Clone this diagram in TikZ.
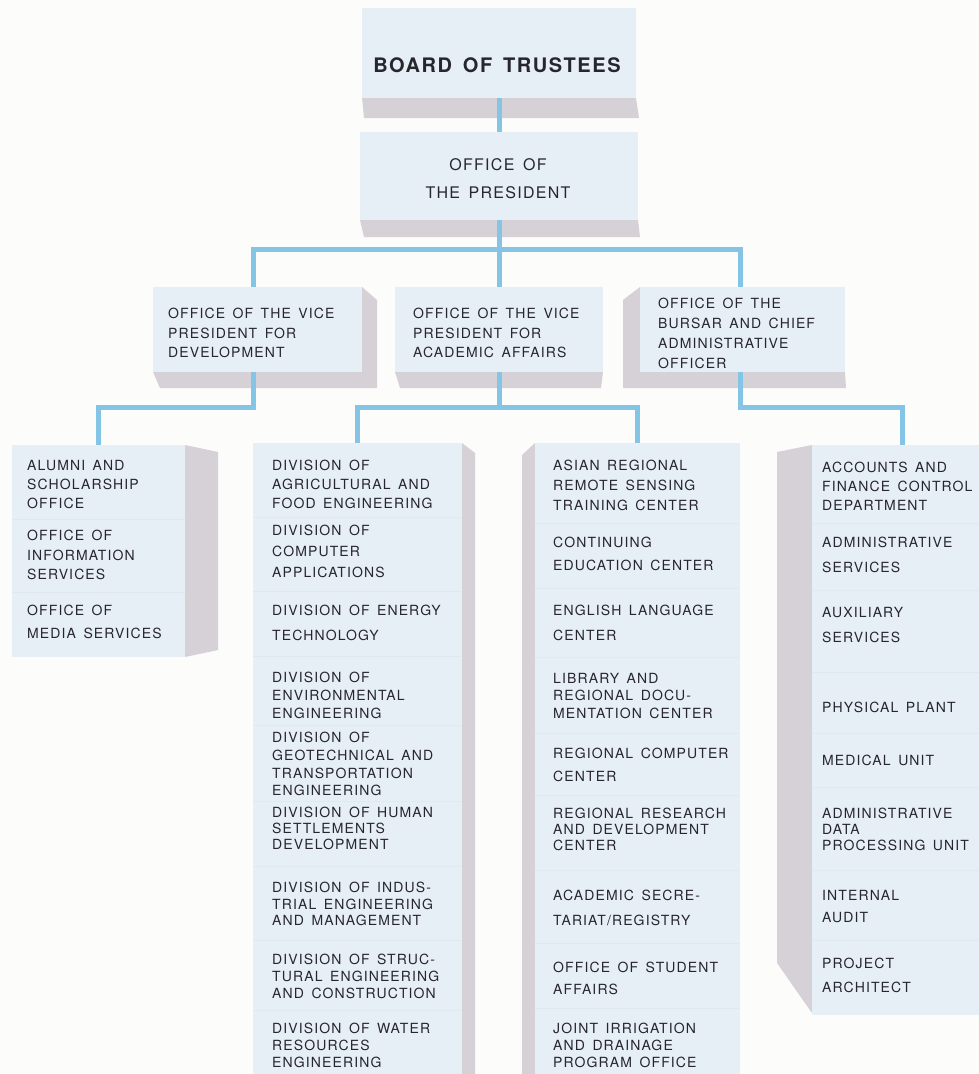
\documentclass[tikz,border=0pt]{standalone}
\usepackage{fontspec}
\setmainfont{TeX Gyre Heros}[LetterSpace=8,WordSpace=1.5]
\definecolor{bgc}{RGB}{252,252,250}
\definecolor{frontc}{RGB}{231,239,246}
\definecolor{sidec}{RGB}{214,208,215}
\definecolor{linec}{RGB}{132,197,229}
\definecolor{txtc}{RGB}{38,38,44}
\definecolor{sepc}{RGB}{224,233,242}
\tikzset{
  front/.style={fill=frontc, draw=none, inner sep=0pt, anchor=north west},
  face/.style={fill=sidec, draw=none},
  conn/.style={draw=linec, line width=5pt, line join=miter},
  lab/.style={inner sep=0pt, anchor=north west, align=left, text=txtc},
  seprule/.style={draw=sepc, line width=1pt}
}
\newcommand\orgitem[5]{\node[lab, font=\fontsize{14}{#4}\selectfont] (#1) at (#2,#3) {#5};}
\begin{document}
\begin{tikzpicture}[x=1pt,y=-1pt]
\useasboundingbox (0,0) rectangle (979,1074);
\clip (0,0) rectangle (979,1074);
\fill[bgc] (0,0) rectangle (979,1074);

% ---- side / bottom faces
\fill[face] (362,98) -- (636,98) -- (639,118) -- (364,118) -- cycle;
\fill[face] (360,220) -- (638,220) -- (640,237) -- (364,237) -- cycle;
\fill[face] (153,372) -- (362,372) -- (362,287) -- (377,300) -- (377,388) -- (160,388) -- cycle;
\fill[face] (395,372) -- (603,372) -- (601,388) -- (400,388) -- cycle;
\fill[face] (845,372) -- (640,372) -- (640,287) -- (623,300) -- (623,388) -- (846,388) -- cycle;
\fill[face] (185,445) -- (218,452) -- (218,650) -- (185,657) -- cycle;
\fill[face] (462,443) -- (475,453) -- (475,1080) -- (462,1080) -- cycle;
\fill[face] (535,443) -- (522,455) -- (522,1080) -- (535,1080) -- cycle;
\fill[face] (812,445) -- (777,452) -- (777,963) -- (812,1013) -- cycle;

% ---- front faces
\node[front, minimum width=274pt, minimum height=90pt] (bot) at (362,8) {};
\node[front, minimum width=278pt, minimum height=88pt] (op) at (360,132) {};
\node[front, minimum width=209pt, minimum height=85pt] (vpl) at (153,287) {};
\node[front, minimum width=208pt, minimum height=85pt] (vpm) at (395,287) {};
\node[front, minimum width=205pt, minimum height=85pt] (vpr) at (640,287) {};
\node[front, minimum width=173pt, minimum height=212pt] (col1) at (12,445) {};
\node[front, minimum width=209pt, minimum height=640pt] (col2) at (253,443) {};
\node[front, minimum width=205pt, minimum height=640pt] (col3) at (535,443) {};
\node[front, minimum width=180pt, minimum height=570pt] (col4) at (812,445) {};

% ---- faint item separators
\foreach \yy in {519,592} \draw[seprule] (12,\yy) -- (185,\yy);
\foreach \yy in {517,591,656,725,801,866,940,1010} \draw[seprule] (253,\yy) -- (462,\yy);
\foreach \yy in {523,588,657,733,795,870,943,1008} \draw[seprule] (535,\yy) -- (740,\yy);
\foreach \yy in {523,590,672,733,787,870,940} \draw[seprule] (812,\yy) -- (979,\yy);

% ---- connectors
\coordinate (busA) at (499,249);
\coordinate (busB) at (499,407);
\draw[conn] (bot.south) -- (op.north);
\draw[conn] (op.south) -- (vpm.north);
\draw[conn] ([xshift=-4pt]vpl.north) -- ([xshift=-4pt]vpl.north |- busA) -- ([xshift=-2pt]vpr.north |- busA) -- ([xshift=-2pt]vpr.north);
\draw[conn] ([xshift=-4pt]vpl.south) -- ([xshift=-4pt]vpl.south |- busB) -- (col1.north |- busB) -- (col1.north);
\draw[conn] (vpm.south) -- (vpm.south |- busB);
\draw[conn] (col2.north) -- (col2.north |- busB) -- (col3.north |- busB) -- (col3.north);
\draw[conn] ([xshift=-2pt]vpr.south) -- ([xshift=-2pt]vpr.south |- busB) -- (col4.north |- busB) -- (col4.north);

% ---- labels
\node[inner sep=0pt, text=txtc, font=\fontsize{20}{24}\selectfont\bfseries] (botlab) at (497,65) {BOARD OF TRUSTEES};
\node[inner sep=0pt, text=txtc, align=center, font=\fontsize{16}{28}\selectfont] (oplab) at (498,179) {OFFICE OF\\THE PRESIDENT};

\orgitem{vpllab}{168}{308}{19.5}{OFFICE OF THE VICE\\PRESIDENT FOR\\DEVELOPMENT}
\orgitem{vpmlab}{413}{308}{19.5}{OFFICE OF THE VICE\\PRESIDENT FOR\\ACADEMIC AFFAIRS}
\orgitem{vprlab}{658}{298}{20}{OFFICE OF THE\\BURSAR AND CHIEF\\ADMINISTRATIVE\\OFFICER}

\orgitem{a1}{27}{460}{19}{ALUMNI AND\\SCHOLARSHIP\\OFFICE}
\orgitem{a2}{27}{530}{19.5}{OFFICE OF\\INFORMATION\\SERVICES}
\orgitem{a3}{27}{605}{23}{OFFICE OF\\MEDIA SERVICES}

\orgitem{d1}{272}{460}{19}{DIVISION OF\\AGRICULTURAL AND\\FOOD ENGINEERING}
\orgitem{d2}{272}{525}{21}{DIVISION OF\\COMPUTER\\APPLICATIONS}
\orgitem{d3}{272}{605}{25}{DIVISION OF ENERGY\\TECHNOLOGY}
\orgitem{d4}{272}{672}{18}{DIVISION OF\\ENVIRONMENTAL\\ENGINEERING}
\orgitem{d5}{272}{732}{17.7}{DIVISION OF\\GEOTECHNICAL AND\\TRANSPORTATION\\ENGINEERING}
\orgitem{d6}{272}{807}{16}{DIVISION OF HUMAN\\SETTLEMENTS\\DEVELOPMENT}
\orgitem{d7}{272}{882}{16.5}{DIVISION OF INDUS-\\TRIAL ENGINEERING\\AND MANAGEMENT}
\orgitem{d8}{272}{954}{17}{DIVISION OF STRUC-\\TURAL ENGINEERING\\AND CONSTRUCTION}
\orgitem{d9}{272}{1023}{17}{DIVISION OF WATER\\RESOURCES\\ENGINEERING}

\orgitem{c1}{553}{460}{20}{ASIAN REGIONAL\\REMOTE SENSING\\TRAINING CENTER}
\orgitem{c2}{553}{537}{23}{CONTINUING\\EDUCATION CENTER}
\orgitem{c3}{553}{605}{25}{ENGLISH LANGUAGE\\CENTER}
\orgitem{c4}{553}{673}{17.5}{LIBRARY AND\\REGIONAL DOCU-\\MENTATION CENTER}
\orgitem{c5}{553}{748}{23}{REGIONAL COMPUTER\\CENTER}
\orgitem{c6}{553}{808}{16}{REGIONAL RESEARCH\\AND DEVELOPMENT\\CENTER}
\orgitem{c7}{553}{890}{25}{ACADEMIC SECRE-\\TARIAT/REGISTRY}
\orgitem{c8}{553}{962}{22}{OFFICE OF STUDENT\\AFFAIRS}
\orgitem{c9}{553}{1023}{17}{JOINT IRRIGATION\\AND DRAINAGE\\PROGRAM OFFICE}

\orgitem{r1}{822}{462}{19}{ACCOUNTS AND\\FINANCE CONTROL\\DEPARTMENT}
\orgitem{r2}{822}{537}{25}{ADMINISTRATIVE\\SERVICES}
\orgitem{r3}{822}{607}{25}{AUXILIARY\\SERVICES}
\orgitem{r4}{822}{702}{19}{PHYSICAL PLANT}
\orgitem{r5}{822}{755}{19}{MEDICAL UNIT}
\orgitem{r6}{822}{808}{16}{ADMINISTRATIVE\\DATA\\PROCESSING UNIT}
\orgitem{r7}{822}{890}{22}{INTERNAL\\AUDIT}
\orgitem{r8}{822}{958}{24}{PROJECT\\ARCHITECT}
\end{tikzpicture}
\end{document}
